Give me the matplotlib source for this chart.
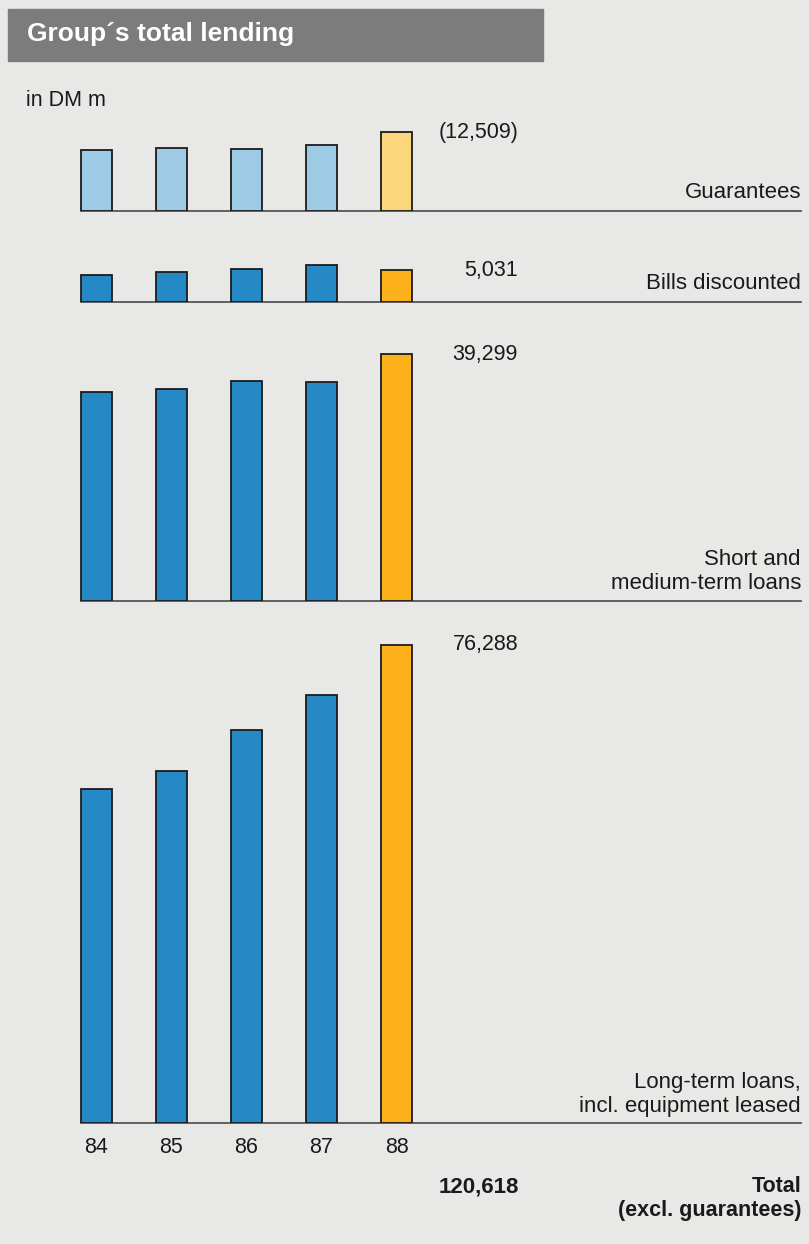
import matplotlib
matplotlib.use('Agg')
import matplotlib.pyplot as plt
import matplotlib.transforms as mtransforms
from matplotlib.patches import Rectangle

# Group's total lending, DM millions, 1984-1988
years = ['84', '85', '86', '87', '88']
guarantees = [9680, 9990, 9790, 10520, 12509]
bills_discounted = [4260, 4730, 5210, 5850, 5031]
short_medium_loans = [33220, 33750, 35070, 34910, 39299]
long_term_loans = [53290, 56160, 62690, 68270, 76288]

W, H = 809, 1244
UNITS_PER_PX = 159.4        # same value scale on every panel
X0, STEP = 96.5, 75.0        # first bar centre and bar spacing in px
BAR_W = 31.0

BG = '#e8e8e6'
BLUE, LIGHT_BLUE = '#2489c4', '#9dcae5'
ORANGE, LIGHT_ORANGE = '#fdb11b', '#fcd67a'
EDGE = '#1c1c1c'
RULE = '#555555'
TEXT = '#1a1a1a'

plt.rcParams['font.family'] = ['Liberation Sans', 'DejaVu Sans']
NARROW = ['Liberation Sans Narrow', 'Liberation Sans', 'DejaVu Sans']

fig = plt.figure(figsize=(W / 100, H / 100), dpi=100, facecolor=BG)


def fx(px):
    return px / W


def fy(py):
    return 1 - py / H


def panel(values, baseline, top, pale):
    ax = fig.add_axes([0, fy(baseline), 1, (baseline - top) / H])
    ax.set_xlim(-X0 / STEP, (W - X0) / STEP)
    ax.set_ylim(0, (baseline - top) * UNITS_PER_PX)
    ax.axis('off')
    if pale:
        colors = [LIGHT_BLUE] * 4 + [LIGHT_ORANGE]
    else:
        colors = [BLUE] * 4 + [ORANGE]
    ax.bar(range(len(values)), values, width=BAR_W / STEP, color=colors,
           edgecolor=EDGE, linewidth=1.3, zorder=3)
    ax.axhline(0, xmin=fx(81), xmax=fx(801), color=RULE, lw=1.3,
               clip_on=False, zorder=2)
    return ax


def value_label(ax, value, text):
    trans = mtransforms.blended_transform_factory(ax.transAxes, ax.transData)
    ax.text(fx(518), value, text, transform=trans, ha='right', va='center',
            fontsize=15.5, color=TEXT)


ax_g = panel(guarantees, 210.7, 115, True)
ax_b = panel(bills_discounted, 301.7, 235, False)
ax_s = panel(short_medium_loans, 600.7, 325, False)
ax_l = panel(long_term_loans, 1123.3, 620, False)

value_label(ax_g, guarantees[-1], '({:,})'.format(guarantees[-1]))
value_label(ax_b, bills_discounted[-1], '{:,}'.format(bills_discounted[-1]))
value_label(ax_s, short_medium_loans[-1], '{:,}'.format(short_medium_loans[-1]))
value_label(ax_l, long_term_loans[-1], '{:,}'.format(long_term_loans[-1]))

# category names, right-aligned above each rule
names = [(203, 'Guarantees'), (294, 'Bills discounted'),
         (594, 'Short and\nmedium-term loans'),
         (1117, 'Long-term loans,\nincl. equipment leased')]
for y, name in names:
    fig.text(fx(801), fy(y), name, ha='right', va='bottom', fontsize=16,
             color=TEXT, linespacing=1.17)

# year labels under the bottom panel
for i, yr in enumerate(years):
    ax_l.annotate(yr, (i, 0), xytext=(0, -17.3), textcoords='offset points',
                  ha='center', va='center', fontsize=15.5, color=TEXT,
                  annotation_clip=False)

total = bills_discounted[-1] + short_medium_loans[-1] + long_term_loans[-1]
fig.text(fx(519), fy(1187), '{:,}'.format(total), ha='right', va='center',
         fontsize=16, fontweight='bold', color=TEXT, family=NARROW)
fig.text(fx(801), fy(1198.5), 'Total\n(excl. guarantees)', ha='right',
         va='center', fontsize=15.5, fontweight='bold', color=TEXT,
         family=NARROW, linespacing=1.2)

# title bar
fig.patches.append(Rectangle((fx(8), fy(61)), fx(543) - fx(8), 52 / H,
                             transform=fig.transFigure, color='#7c7c7c',
                             zorder=0))
fig.text(fx(27), fy(34), 'Group\u00b4s total lending', ha='left',
         va='center', fontsize=19, fontweight='bold', color='white')
fig.text(fx(26), fy(101), 'in DM m', ha='left', va='center', fontsize=15.5,
         color=TEXT)

fig.savefig('out.png', dpi=100, facecolor=BG)
